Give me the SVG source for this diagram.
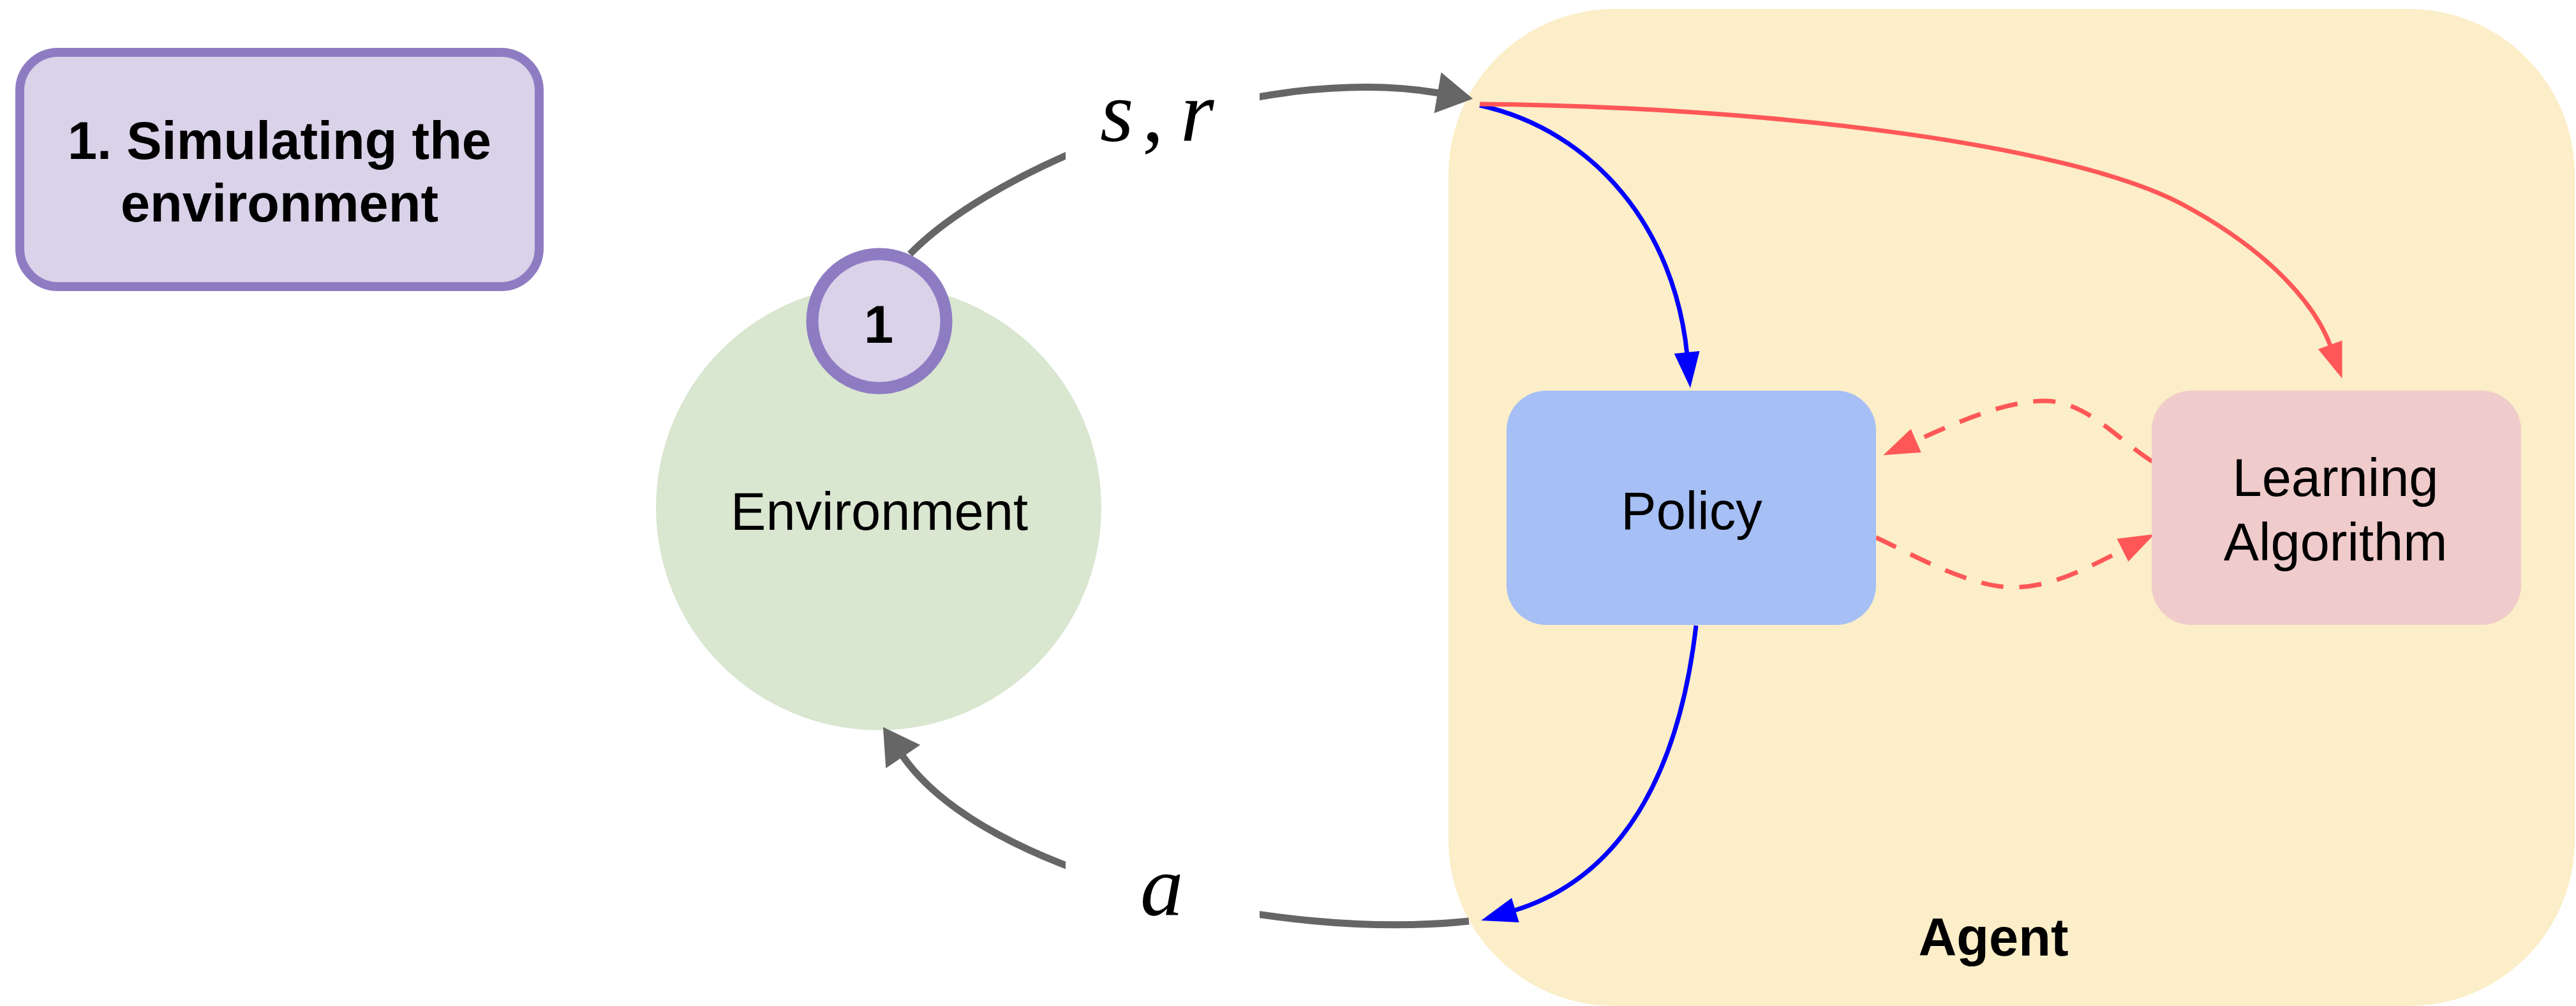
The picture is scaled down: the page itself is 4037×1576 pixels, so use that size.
<svg xmlns="http://www.w3.org/2000/svg" width="4037" height="1576" viewBox="0 0 4037 1576">
<style>
.lbl{font-family:"Liberation Sans",Arial,sans-serif;font-size:83px;fill:#000;text-anchor:middle}
.bold{font-weight:bold}
.math{font-family:"Liberation Serif","Times New Roman",serif;font-size:135px;fill:#000}
.gray{fill:none;stroke:#666666;stroke-width:11}
.blue{fill:none;stroke:#0000ff;stroke-width:7}
.red{fill:none;stroke:#ff5757;stroke-width:7}
.dash{stroke-dasharray:35 25}
</style>
<defs>
<marker id="ag" markerUnits="userSpaceOnUse" orient="auto" markerWidth="60" markerHeight="66" refX="4" refY="32.5" overflow="visible"><path d="M0,0 L56,32.5 L0,65 z" fill="#666666"/></marker>
<marker id="ab" markerUnits="userSpaceOnUse" orient="auto" markerWidth="60" markerHeight="44" refX="4" refY="20" overflow="visible"><path d="M0,0 L56,20 L0,40 z" fill="#0000ff"/></marker>
<marker id="ar" markerUnits="userSpaceOnUse" orient="auto" markerWidth="60" markerHeight="44" refX="4" refY="20" overflow="visible"><path d="M0,0 L56,20 L0,40 z" fill="#ff5757"/></marker>
</defs>
<rect width="4037" height="1576" fill="#ffffff"/>
<g id="title">
<rect x="31" y="82" width="814" height="367" rx="60" fill="#d9d2e9" stroke="#8e7cc3" stroke-width="14"/>
<text class="lbl bold" x="438" y="249" font-size="85">1. Simulating the</text>
<text class="lbl bold" x="438" y="347" font-size="85">environment</text>
</g>
<g id="agent">
<rect x="2270" y="14" width="1765" height="1562" rx="260" fill="#fbeec8"/>
<text class="lbl bold" x="3124" y="1497">Agent</text>
</g>
<g id="environment">
<circle cx="1377" cy="795" r="349" fill="#d9e6d0"/>
<text class="lbl" x="1378" y="830">Environment</text>
</g>
<g id="connectors">
<path class="gray" d="M1426,398 C1560,260 1960,95 2257,146" marker-end="url(#ag)"/>
<path class="gray" d="M2302,1443 C2000,1475 1540,1370 1413,1182" marker-end="url(#ag)"/>
<rect x="1670" y="95" width="304" height="170" fill="#ffffff"/>
<rect x="1670" y="1290" width="304" height="200" fill="#ffffff"/>
<text class="math" y="221"><tspan x="1724" font-style="italic">s</tspan><tspan x="1790">,</tspan><tspan x="1850" font-style="italic">r</tspan></text>
<text class="math" x="1787" y="1434" font-style="italic">a</text>
<path class="blue" d="M2319,165 C2500,205 2625,360 2644,556" marker-end="url(#ab)"/>
<path class="red" d="M2319,163 C2800,168 3250,230 3420,320 C3560,395 3630,480 3653,544" marker-end="url(#ar)"/>
<path class="blue" d="M2658,980 C2635,1180 2560,1370 2371,1427" marker-end="url(#ab)"/>
<path class="red dash" d="M3373,723 C3320,690 3270,628 3204,628 C3140,628 3060,665 2999,692" marker-end="url(#ar)"/>
<path class="red dash" d="M2940,842 C3000,870 3090,922 3160,920 C3220,918 3270,890 3330,860" marker-end="url(#ar)"/>
</g>
<g id="badge">
<circle cx="1378" cy="503" r="105" fill="#d9d2e9" stroke="#8e7cc3" stroke-width="19"/>
<text class="lbl bold" x="1377" y="537" font-size="88">1</text>
</g>
<g id="policy">
<rect x="2361" y="612" width="579" height="367" rx="62" fill="#a6bff5"/>
<text class="lbl" x="2651" y="829">Policy</text>
</g>
<g id="learning">
<rect x="3372" y="612" width="579" height="367" rx="62" fill="#f0cbcb"/>
<text class="lbl" x="3660" y="777">Learning</text>
<text class="lbl" x="3660" y="878">Algorithm</text>
</g>
</svg>
